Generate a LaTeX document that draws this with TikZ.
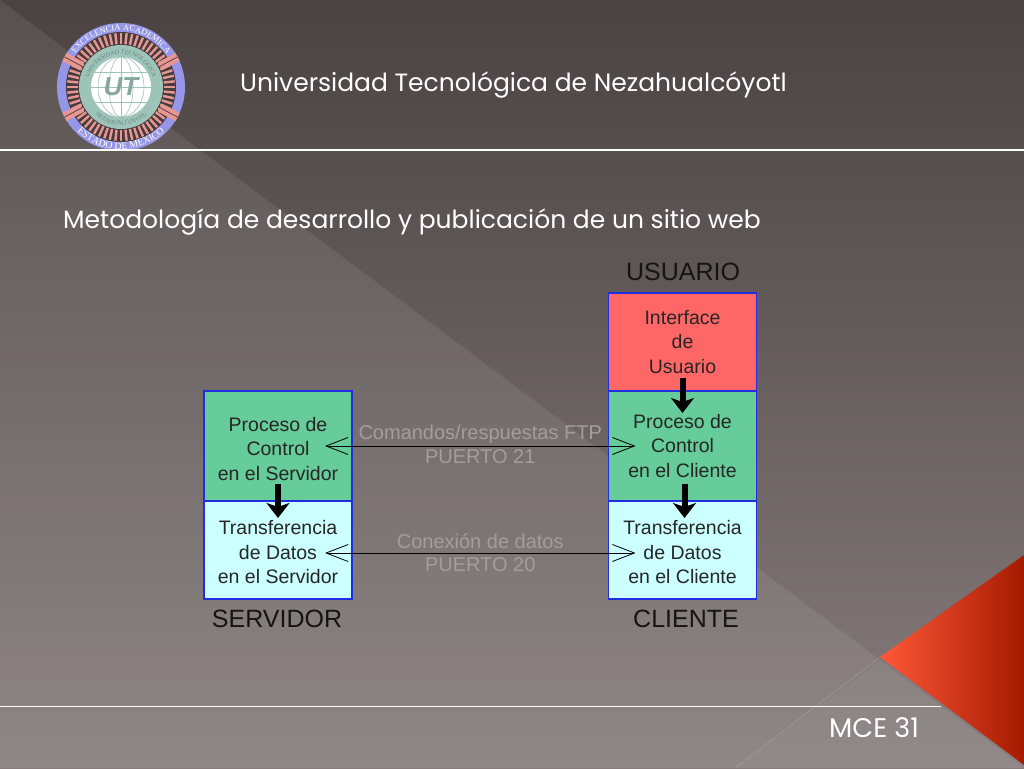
\documentclass[tikz,border=0pt]{standalone}
\usepackage{fontspec}
\setmainfont{Liberation Sans}
\newfontfamily\slidefont{Poppins}
\newfontfamily\sealfont{Liberation Serif}
\usetikzlibrary{
  arrows.meta,
  calc,
  decorations.text
}
\definecolor{bgtop}{RGB}{74, 67, 65}
\definecolor{bgbottom}{RGB}{134, 124, 124}
\definecolor{redtip}{RGB}{255, 88, 56}
\definecolor{redmid}{RGB}{242, 44, 0}
\definecolor{reddark}{RGB}{165, 26, 0}
\definecolor{borderblue}{RGB}{34, 44, 224}
\definecolor{ctrlgreen}{RGB}{102, 204, 153}
\definecolor{datacyan}{RGB}{204, 255, 255}
\definecolor{userred}{RGB}{255, 102, 102}
\definecolor{ghosttext}{RGB}{165, 157, 154}
\definecolor{sealblue}{RGB}{150, 150, 232}
\definecolor{sealpink}{RGB}{232, 150, 145}
\definecolor{sealdark}{RGB}{70, 60, 62}
\definecolor{sealteal}{RGB}{158, 196, 186}
\definecolor{sealink}{RGB}{96, 132, 122}
\tikzset{
headtext/.style={
  font=\slidefont\fontsize{25}{30}\selectfont,
  text=white,
  anchor=west,
  inner sep=0pt
},
blocktext/.style={
  align=center,
  inner sep=0pt,
  text=black!85,
  font=\fontsize{19.5}{24.5}\selectfont
},
procblock/.style={
  draw=borderblue,
  line width=1.2pt,
  minimum width=148pt,
  outer sep=0pt,
  blocktext
},
ctrlblock/.style={
  procblock,
  fill=ctrlgreen,
  minimum height=110pt
},
datablock/.style={
  procblock,
  fill=datacyan,
  minimum height=98pt
},
userblock/.style={
  procblock,
  fill=userred,
  minimum height=98pt
},
stacklabel/.style={
  font=\fontsize{25}{28}\selectfont,
  text=black!92,
  inner sep=0pt
},
ghostlabel/.style={
  font=\fontsize{20}{24}\selectfont,
  text=ghosttext,
  inner sep=0pt
},
linkarrow/.style={
  {Straight Barb[length=22pt,width=17pt]}-{Straight Barb[length=22pt,width=17pt]},
  line width=0.8pt,
  draw=black
},
flowarrow/.style={
  -{Stealth[length=15pt,width=23pt,inset=4pt]},
  line width=6pt,
  draw=black
}
}
\begin{document}
\begin{tikzpicture}[x=1pt,y=1pt]
\useasboundingbox (0,0) rectangle (1024,768);

% ============================================================================
% Fondo
% ============================================================================
\shade[top color=bgtop, bottom color=bgbottom] (0,0) rectangle (1024,768);
\fill[white, opacity=0.08] (0,768) -- (1024,0) -- (0,0) -- cycle;
\fill[white, opacity=0.03] (735,0) -- (1024,213) -- (1024,0) -- cycle;
\draw[white, opacity=0.15, line width=0.8pt] (735,0) -- (880,111);
\shade[left color=redtip, middle color=redmid, right color=reddark]
    (880,111) -- (1024,213) -- (1024,3) -- cycle;

% ============================================================================
% Escudo
% ============================================================================
\begin{scope}[shift={(121,681)}]
  \fill[sealblue] (0,0) circle (64);
  \fill[sealdark] (0,0) circle (55);
  \foreach \ang in {0,6,...,354} {
    \draw[sealpink, line width=2.4pt] (\ang:43) -- (\ang:54);
  }
  \foreach \ang in {28,152,208,332} {
    \draw[sealpink, line width=9pt] (\ang:44) -- (\ang:64);
    \draw[sealdark, line width=0.7pt] (\ang:44) -- (\ang:64);
  }
  \fill[sealteal] (0,0) circle (42);
  \fill[white] (0,0) circle (30);
  \draw[sealteal, line width=0.6pt] (0,0) ellipse (12 and 30);
  \draw[sealteal, line width=0.6pt] (0,0) ellipse (23 and 30);
  \draw[sealteal, line width=0.6pt] (0,-30) -- (0,30);
  \draw[sealteal, line width=0.6pt] (-30,0) -- (30,0);
  \draw[sealteal, line width=0.6pt] (-26,15) -- (26,15);
  \draw[sealteal, line width=0.6pt] (-26,-15) -- (26,-15);
  \node[font=\bfseries\itshape\fontsize{26}{26}\selectfont, text=sealteal!85!black, inner sep=0pt] (sealut) at (0,0) {UT};
  \path[postaction={decorate, decoration={text along path, text align=center,
      text={|\sealfont\fontsize{8.5}{9}\selectfont\color{white}|EXCELENCIA ACADEMICA}}}]
      (150:56.5) arc[start angle=150, end angle=30, radius=56.5];
  \path[postaction={decorate, decoration={text along path, text align=center,
      text={|\sealfont\fontsize{10}{10}\selectfont\color{white}|ESTADO DE MEXICO}}}]
      (210:62.5) arc[start angle=210, end angle=330, radius=62.5];
  \path[postaction={decorate, decoration={text along path, text align=center,
      text={|\sealfont\fontsize{6}{6}\selectfont\color{sealink}|UNIVERSIDAD TECNOLOGICA}}}]
      (170:33) arc[start angle=170, end angle=10, radius=33];
  \path[postaction={decorate, decoration={text along path, text align=center,
      text={|\sealfont\fontsize{6}{6}\selectfont\color{sealink}|NEZAHUALCOYOTL}}}]
      (215:38) arc[start angle=215, end angle=325, radius=38];
\end{scope}

% ============================================================================
% Encabezado y pie
% ============================================================================
\draw[white, line width=1.6pt] (0,618) -- (1024,618);
\draw[white, line width=0.9pt] (0,62) -- (941,62);
\node[headtext] (title) at (240,683) {Universidad Tecnológica de Nezahualcóyotl};
\node[headtext] (subtitle) at (63,546) {Metodología de desarrollo y publicación de un sitio web};
\node[headtext, font=\slidefont\fontsize{27}{30}\selectfont] (slidenum) at (829,40) {MCE 31};

% ============================================================================
% Bloques del servidor
% ============================================================================
\node[ctrlblock, label={[blocktext, yshift=-3pt]center:{Proceso de\\Control\\en el Servidor}}] (srv_ctrl) at (278,322) {};
\node[datablock, label={[blocktext, yshift=-2.5pt]center:{Transferencia\\de Datos\\en el Servidor}}] (srv_data) at (278,218) {};

% ============================================================================
% Bloques del cliente
% ============================================================================
\node[userblock] (cli_user) at (682.5,426) {Interface\\de\\Usuario};
\node[ctrlblock] (cli_ctrl) at (682.5,322) {Proceso de\\Control\\en el Cliente};
\node[datablock, label={[blocktext, yshift=-2.5pt]center:{Transferencia\\de Datos\\en el Cliente}}] (cli_data) at (682.5,218) {};

% ============================================================================
% Rótulos
% ============================================================================
\node[stacklabel] (lbl_user) at (683,496) {USUARIO};
\node[stacklabel] (lbl_srv) at (277,149) {SERVIDOR};
\node[stacklabel] (lbl_cli) at (686,149) {CLIENTE};

% ============================================================================
% Flechas internas
% ============================================================================
\draw[flowarrow] ($(srv_ctrl.south)+(0,17)$) -- ($(srv_data.north)+(0,-17)$);
\draw[flowarrow] ($(cli_user.south)+(0,13)$) -- ($(cli_ctrl.north)+(0,-22)$);
\draw[flowarrow] ($(cli_ctrl.south)+(2,17)$) -- ($(cli_data.north)+(2,-17)$);

% ============================================================================
% Conexiones FTP
% ============================================================================
\draw[linkarrow] ($(srv_ctrl.east)+(-27,0)$) -- ($(cli_ctrl.west)+(27,0)$)
    node[midway, ghostlabel, yshift=12pt] (lbl_cmd) {Comandos/respuestas FTP}
    node[midway, ghostlabel, yshift=-11pt] (lbl_p21) {PUERTO 21};
\draw[linkarrow] ($(srv_data.east)+(-27,-3)$) -- ($(cli_data.west)+(27,-3)$)
    node[midway, ghostlabel, yshift=12pt] (lbl_con) {Conexión de datos}
    node[midway, ghostlabel, yshift=-12pt] (lbl_p20) {PUERTO 20};

\end{tikzpicture}
\end{document}
